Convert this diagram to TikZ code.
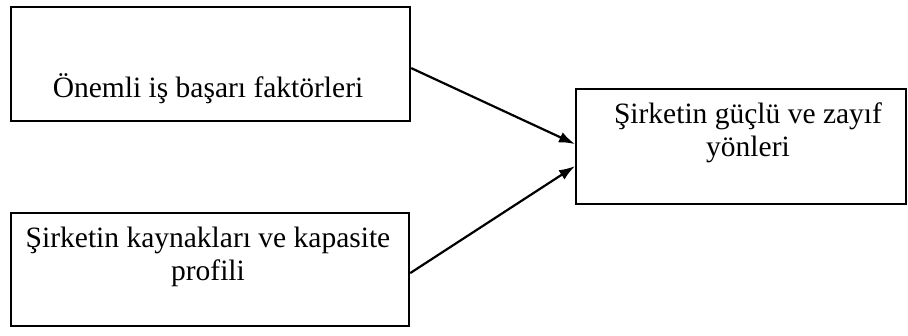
\documentclass[tikz,border=0pt]{standalone}
\usepackage{fontspec}
\setmainfont{Liberation Serif}
\usetikzlibrary{arrows.meta}
\begin{document}
\begin{tikzpicture}[x=1pt,y=-1pt,
  frame/.style={draw, line width=2.2pt, inner sep=0pt, anchor=north west},
  lbl/.style={font=\fontsize{29.5}{33}\selectfont, align=center, inner sep=0pt, anchor=base},
  flow/.style={-{Latex[length=16pt,width=11pt]}, line width=2.2pt}]
\useasboundingbox (0,0) rectangle (908,335);
% boxes
\node[frame, minimum width=399pt, minimum height=114pt] (b1) at (10,6) {};
\node[frame, minimum width=398pt, minimum height=113pt] (b2) at (10,212) {};
\node[frame, minimum width=330pt, minimum height=115pt] (b3) at (575,88) {};
% labels (a two-line label sits on the baseline of its last line)
\node[lbl] (t1) at (208,97) {Önemli iş başarı faktörleri};
\node[lbl] (t2) at (208,280) {Şirketin kaynakları ve kapasite\\profili};
\node[lbl] (t3) at (748,156) {Şirketin güçlü ve zayıf\\yönleri};
% connectors
\draw[flow] ([yshift=-4pt]b1.east) -- ([yshift=2.5pt]b3.west);
\draw[flow] ([yshift=-3.5pt]b2.east) -- ([yshift=-19.5pt]b3.west);
\end{tikzpicture}
\end{document}
